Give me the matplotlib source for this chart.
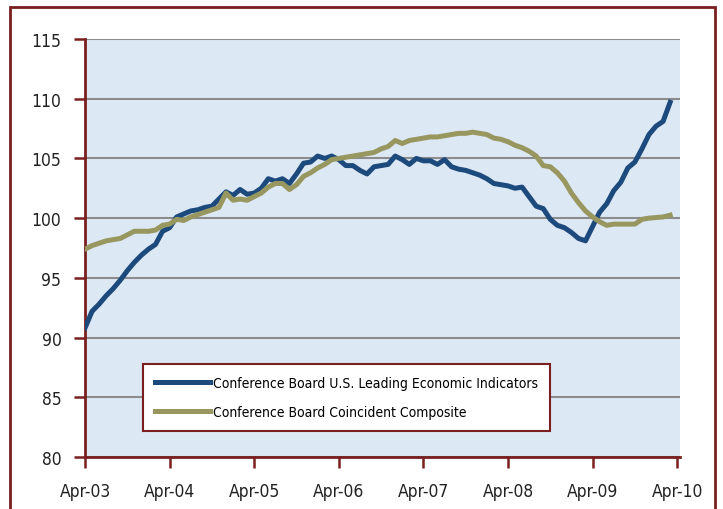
import matplotlib.pyplot as plt
import matplotlib.font_manager as fm
from matplotlib.font_manager import FontProperties
from matplotlib.patches import Rectangle
import numpy as np

tick_labels = ["Apr-03", "Apr-04", "Apr-05", "Apr-06", "Apr-07", "Apr-08", "Apr-09", "Apr-10"]

leading = [90.8, 92.2, 92.8, 93.5, 94.1, 94.8, 95.6, 96.3, 96.9, 97.4, 97.8, 98.9,
           99.2, 100.1, 100.35, 100.6, 100.7, 100.9, 101.0, 101.6, 102.2, 101.9, 102.4, 102.0,
           102.1, 102.5, 103.3, 103.1, 103.3, 102.9, 103.7, 104.6, 104.7, 105.2, 105.0, 105.2,
           104.9, 104.4, 104.4, 104.0, 103.7, 104.3, 104.4, 104.5, 105.2, 104.9, 104.5, 105.0,
           104.8, 104.8, 104.5, 104.9, 104.3, 104.1, 104.0, 103.8, 103.6, 103.3, 102.9, 102.8,
           102.7, 102.5, 102.6, 101.8, 101.0, 100.8, 99.9, 99.4, 99.2, 98.8, 98.3, 98.1,
           99.3, 100.5, 101.2, 102.3, 103.0, 104.2, 104.7, 105.8, 107.0, 107.7, 108.1, 109.7]

coincident = [97.4, 97.7, 97.9, 98.1, 98.2, 98.3, 98.6, 98.9, 98.9, 98.9, 99.0, 99.4,
              99.5, 99.9, 99.8, 100.1, 100.3, 100.5, 100.7, 100.9, 102.1, 101.5, 101.6, 101.5,
              101.8, 102.1, 102.6, 102.9, 102.9, 102.4, 102.8, 103.5, 103.8, 104.2, 104.5, 104.9,
              105.0, 105.1, 105.2, 105.3, 105.4, 105.5, 105.8, 106.0, 106.5, 106.25, 106.5, 106.6,
              106.7, 106.8, 106.8, 106.9, 107.0, 107.1, 107.1, 107.2, 107.1, 107.0, 106.7, 106.6,
              106.4, 106.1, 105.9, 105.6, 105.2, 104.4, 104.3, 103.8, 103.1, 102.1, 101.3, 100.6,
              100.1, 99.7, 99.4, 99.5, 99.5, 99.5, 99.5, 99.9, 100.0, 100.05, 100.1, 100.25]

# look for a condensed / narrow sans font, the original uses one
narrow = None
for f in fm.fontManager.ttflist:
    nm = f.name + " " + f.fname
    is_narrow = ("Narrow" in nm or "Condensed" in nm or f.stretch in ("condensed", "semi-condensed"))
    if is_narrow and f.style == "normal" and f.weight in (400, "normal", "regular") \
            and "Bold" not in f.fname and "Mono" not in nm and "Serif" not in nm:
        narrow = f.fname
        break

if narrow:
    tick_font = FontProperties(fname=narrow, size=12.5)
    leg_font = FontProperties(fname=narrow, size=10)
else:
    tick_font = FontProperties(family="Liberation Sans", size=11.5)
    leg_font = FontProperties(family="Liberation Sans", size=9)

months = np.arange(len(leading))
dark_red = "#7a1f1f"

fig = plt.figure(figsize=(7.23, 5.10), dpi=100)
ax = fig.add_axes([85 / 723, 1 - 458 / 510, 595 / 723, 418 / 510])
ax.set_facecolor("#dde8f5")

# outer frame
fig.patches.append(Rectangle((10 / 723, -0.05), 705 / 723, 1 - 8 / 510 + 0.05,
                             transform=fig.transFigure, fill=False,
                             edgecolor=dark_red, linewidth=2))

ax.plot(months, leading, color="#1c4a7c", linewidth=3.6,
        label="Conference Board U.S. Leading Economic Indicators", zorder=3)
ax.plot(months, coincident, color="#97975f", linewidth=3.6,
        label="Conference Board Coincident Composite", zorder=3)

ax.set_xlim(0, 84.4)
ax.set_ylim(80, 115)
ax.set_yticks(range(80, 116, 5))
ax.set_xticks(np.arange(0, 85, 12))
ax.set_xticklabels(tick_labels)
ax.yaxis.grid(True, color="#8c8c8c", linewidth=1.5)
ax.set_axisbelow(True)

for s in ["top", "right"]:
    ax.spines[s].set_visible(False)
for s in ["left", "bottom"]:
    ax.spines[s].set_color(dark_red)
    ax.spines[s].set_linewidth(2)

ax.tick_params(axis="both", direction="out", length=8, width=1.8, color=dark_red,
               labelcolor="#222222")
ax.tick_params(axis="y", pad=9)
ax.tick_params(axis="x", pad=10)
for lab in ax.get_xticklabels() + ax.get_yticklabels():
    lab.set_fontproperties(tick_font)

leg = ax.legend(loc="lower left", bbox_to_anchor=(0.0975, 0.062), prop=leg_font,
                frameon=True, fancybox=False, handlelength=4.0, handletextpad=0.2,
                borderpad=0.85, labelspacing=1.1, borderaxespad=0)
leg.get_frame().set_edgecolor(dark_red)
leg.get_frame().set_linewidth(1.5)
leg.get_frame().set_facecolor("white")
leg.get_frame().set_alpha(1)

fig.savefig("out.png", dpi=100)
